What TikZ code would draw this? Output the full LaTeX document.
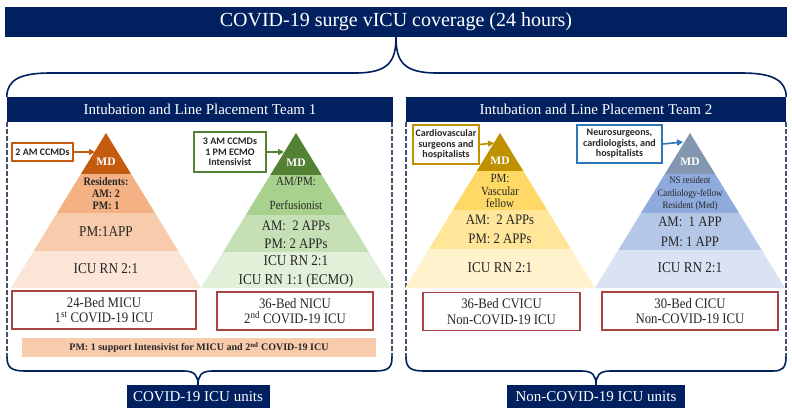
\documentclass[tikz,border=0pt]{standalone}
\usepackage{fontspec}
\setmainfont{Liberation Serif}
\newfontfamily\condfont[FakeStretch=0.88]{Liberation Serif}
\newfontfamily\calib{Carlito}
\usetikzlibrary{arrows.meta, calc}
\definecolor{navy}{HTML}{002060}
\definecolor{dashgray}{HTML}{44546A}
\definecolor{unitred}{HTML}{A94444}
\definecolor{txtdark}{HTML}{262626}
% pyramid tints
\definecolor{orA}{HTML}{C55A11}
\definecolor{orB}{HTML}{F4B183}
\definecolor{orC}{HTML}{F8CBAD}
\definecolor{orD}{HTML}{FBE5D6}
\definecolor{grA}{HTML}{548235}
\definecolor{grB}{HTML}{A9D18E}
\definecolor{grC}{HTML}{C5E0B4}
\definecolor{grD}{HTML}{E2F0D9}
\definecolor{gdA}{HTML}{BF9000}
\definecolor{gdB}{HTML}{FFD966}
\definecolor{gdC}{HTML}{FFE699}
\definecolor{gdD}{HTML}{FFF2CC}
\definecolor{blA}{HTML}{8497B0}
\definecolor{blB}{HTML}{8FAADC}
\definecolor{blC}{HTML}{B4C7E7}
\definecolor{blD}{HTML}{DAE3F3}
\definecolor{blLine}{HTML}{2E75B6}

% one tier of a pyramid: centre x, top y, bottom y, colour (apex at y=133)
\newcommand{\pyrtier}[4]{%
  \fill[#4] ({#1-0.613*(#2-133)},#2) -- ({#1+0.613*(#2-133)},#2)
    -- ({#1+0.613*(#3-133)},#3) -- ({#1-0.613*(#3-133)},#3) -- cycle;}

\begin{document}
\begin{tikzpicture}[
  x=1pt, y=-1pt,
  >={Triangle[length=6pt, width=6pt]},
  hdr/.style={fill=navy, text=white, inner sep=0pt},
  brace/.style={draw=navy, line width=1.6pt},
  dashline/.style={draw=dashgray, line width=1.4pt, dash pattern=on 5pt off 2pt},
  mdtxt/.style={text=white, font=\bfseries\fontsize{11.5}{13}\selectfont},
  tiertxt/.style={text=txtdark, align=center, inner sep=0pt},
  callout/.style={draw, line width=1.2pt, fill=white, align=center, inner sep=0pt,
    text=txtdark, font=\calib\bfseries\fontsize{10}{10.5}\selectfont},
  unitbox/.style={draw=unitred, line width=1.2pt, fill=white, align=center,
    inner sep=0pt, minimum height=38pt, text=txtdark,
    font=\condfont\fontsize{14.5}{15.5}\selectfont},
  arr/.style={->, line width=1.6pt},
]
\useasboundingbox (0,0) rectangle (792,410);

% Title and team headers
\node[hdr, minimum width=782pt, minimum height=30pt,
      font=\fontsize{20}{22}\selectfont] (title) at (396,22)
  {COVID-19 surge vICU coverage (24 hours)};
\node[hdr, minimum width=386pt, minimum height=25pt,
      font=\fontsize{15}{18}\selectfont] (hdr1) at (200,109.5)
  {Intubation and Line Placement Team 1};
\node[hdr, minimum width=380pt, minimum height=25pt,
      font=\fontsize{15}{18}\selectfont] (hdr2) at (596,109.5)
  {Intubation and Line Placement Team 2};

% top brace
\draw[brace] (hdr1.north west) .. controls (7,80) and (20,73) .. (50,73)
  -- (355,73) .. controls (388,73) and (396,62) .. (title.south)
  .. controls (396,62) and (404,73) .. (437,73) -- (742,73)
  .. controls (772,73) and (786,80) .. (hdr2.north east);

% dashed sides
\draw[dashline] (7,122) -- (7,358);
\draw[dashline] (392,122) -- (392,358);
\draw[dashline] (406,122) -- (406,358);
\draw[dashline] (786,122) -- (786,358);

% =============================================
% Pyramid 1 -- MICU (orange)
% =============================================
\pyrtier{106}{133}{174}{orA}
\pyrtier{106}{174}{213}{orB}
\pyrtier{106}{213}{251}{orC}
\pyrtier{106}{251}{288}{orD}
\node[mdtxt] (md1) at (106,162) {MD};
\node[tiertxt, font=\condfont\bfseries\fontsize{11.5}{12}\selectfont] (res1) at (106,194)
  {Residents:\\AM: 2\\PM: 1};
\node[tiertxt, font=\condfont\fontsize{15}{18}\selectfont] (app1) at (106,232) {PM:1APP};
\node[tiertxt, font=\condfont\fontsize{15}{18}\selectfont] (rn1) at (106,269) {ICU RN 2:1};

\node[callout, draw=orA, minimum width=61pt, minimum height=18pt] (cc1) at (42.5,152)
  {2 AM CCMDs};
\coordinate (p1) at (95,152);
\draw[arr, orA] (cc1.east) -- (p1);

% =============================================
% Pyramid 2 -- NICU (green)
% =============================================
\pyrtier{296}{133}{175}{grA}
\pyrtier{296}{175}{215}{grB}
\pyrtier{296}{215}{252}{grC}
\pyrtier{296}{252}{288}{grD}
\node[mdtxt] (md2) at (296,163) {MD};
\node[tiertxt, font=\condfont\fontsize{12.5}{24}\selectfont] (perf2) at (296,193)
  {AM/PM:\\Perfusionist};
\node[tiertxt, font=\condfont\fontsize{14.5}{18}\selectfont] (app2) at (296,235)
  {AM:~~2 APPs\\PM: 2 APPs};
\node[tiertxt, font=\condfont\fontsize{15}{19}\selectfont] (rn2) at (296,272)
  {ICU RN 2:1\\ICU RN 1:1 (ECMO)};

\node[callout, draw=grA, minimum width=72pt, minimum height=40pt] (cc2) at (230,152)
  {3 AM CCMDs\\1 PM ECMO\\Intensivist};
\coordinate (p2) at (284,152);
\draw[arr, grA] (cc2.east) -- (p2);

% =============================================
% Pyramid 3 -- CVICU (gold)
% =============================================
\pyrtier{500}{133}{171}{gdA}
\pyrtier{500}{171}{210}{gdB}
\pyrtier{500}{210}{249}{gdC}
\pyrtier{500}{249}{288}{gdD}
\node[mdtxt] (md3) at (500,161) {MD};
\node[tiertxt, font=\condfont\fontsize{12.5}{12.5}\selectfont] (vasc3) at (500,191)
  {PM:\\Vascular\\fellow};
\node[tiertxt, font=\condfont\fontsize{14.5}{19}\selectfont] (app3) at (500,229)
  {AM:~~2 APPs\\PM: 2 APPs};
\node[tiertxt, font=\condfont\fontsize{15}{18}\selectfont] (rn3) at (500,268) {ICU RN 2:1};

\node[callout, draw=gdA, minimum width=66pt, minimum height=39pt] (cc3) at (446,144.5)
  {Cardiovascular\\surgeons and\\hospitalists};
\coordinate (p3) at (494,143);
\draw[arr, gdA] (cc3.east) -- (p3);

% =============================================
% Pyramid 4 -- CICU (blue)
% =============================================
\pyrtier{690}{133}{174}{blA}
\pyrtier{690}{174}{213}{blB}
\pyrtier{690}{213}{250}{blC}
\pyrtier{690}{250}{288}{blD}
\node[mdtxt] (md4) at (690,162) {MD};
\node[tiertxt, font=\condfont\fontsize{10}{12.5}\selectfont] (res4) at (690,194)
  {NS resident\\Cardiology-fellow\\Resident (Med)};
\node[tiertxt, font=\condfont\fontsize{14.5}{20}\selectfont] (app4) at (690,232)
  {AM:~~1 APP\\PM: 1 APP};
\node[tiertxt, font=\condfont\fontsize{15}{18}\selectfont] (rn4) at (690,268) {ICU RN 2:1};

\node[callout, draw=blLine, minimum width=85pt, minimum height=38pt] (cc4) at (619.5,144)
  {Neurosurgeons,\\cardiologists, and\\hospitalists};
\coordinate (p4) at (683,142);
\draw[arr, blLine] (cc4.east) -- (p4);

% unit boxes
\node[unitbox, minimum width=184pt] (u1) at (104,310)
  {24-Bed MICU\\1\textsuperscript{st} COVID-19 ICU};
\node[unitbox, minimum width=156pt] (u2) at (295,311)
  {36-Bed NICU\\2\textsuperscript{nd} COVID-19 ICU};
\node[unitbox, minimum width=157pt] (u3) at (501.5,311.5)
  {36-Bed CVICU\\Non-COVID-19 ICU};
\node[unitbox, minimum width=176pt] (u4) at (690,311)
  {30-Bed CICU\\Non-COVID-19 ICU};

\node[fill=orC, minimum width=354pt, minimum height=19pt, inner sep=0pt, text=txtdark,
      font=\bfseries\fontsize{10}{12}\selectfont] (band) at (199,347.5)
  {PM: 1 support Intensivist for MICU and 2\textsuperscript{nd} COVID-19 ICU};

% bottom labels
\node[hdr, minimum width=143pt, minimum height=23pt,
      font=\fontsize{15}{18}\selectfont] (covu) at (198,396.5) {COVID-19 ICU units};
\node[hdr, minimum width=178pt, minimum height=23pt,
      font=\fontsize{15}{18}\selectfont] (noncovu) at (596,396.5) {Non-COVID-19 ICU units};

% bottom braces
\draw[brace] (7,357) .. controls (7,368) and (12,371) .. (25,371) -- (184,371)
  .. controls (195,371) and (198,376) .. (covu.north)
  .. controls (198,376) and (201,371) .. (212,371) -- (375,371)
  .. controls (388,371) and (392,368) .. (392,357);
\draw[brace] (406,357) .. controls (406,368) and (411,371) .. (424,371) -- (582,371)
  .. controls (593,371) and (596,376) .. (noncovu.north)
  .. controls (596,376) and (599,371) .. (610,371) -- (773,371)
  .. controls (782,371) and (786,368) .. (786,357);

\end{tikzpicture}
\end{document}
